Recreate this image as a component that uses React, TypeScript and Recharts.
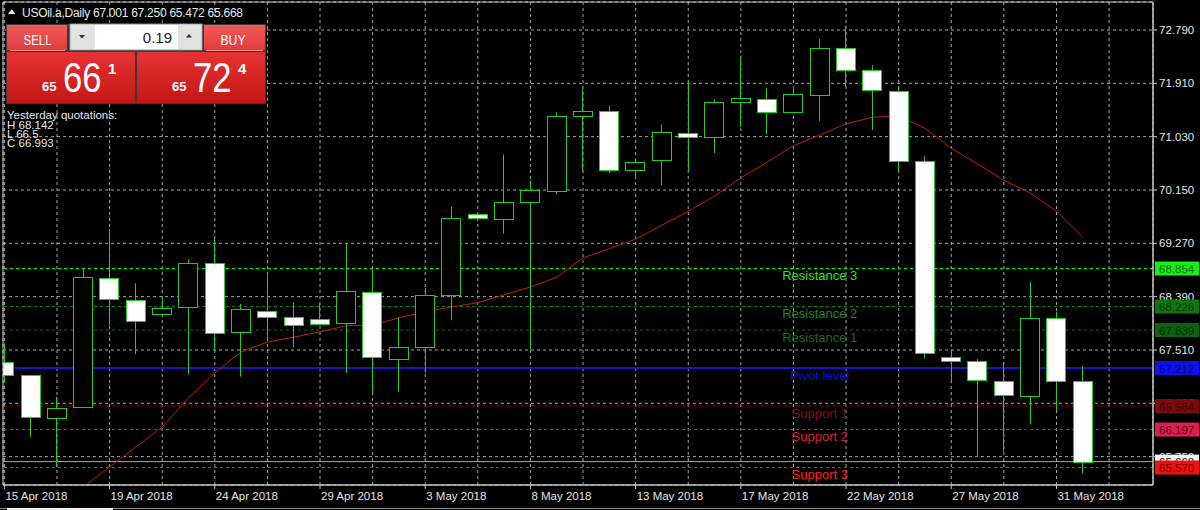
import { ComposedChart, Bar, Line, XAxis, YAxis, CartesianGrid, ReferenceLine, ReferenceDot, ReferenceArea } from 'recharts';

const FONT = "'Liberation Sans', Arial, sans-serif";
const GREEN = '#22cc22';
const FRAME = '#c4c4c4';

// one bar per trading day (the broker also prints short Sunday sessions)
const dates = [
    '15 Apr 2018', '16 Apr 2018', '17 Apr 2018', '18 Apr 2018', '19 Apr 2018', '20 Apr 2018', '22 Apr 2018',
    '23 Apr 2018', '24 Apr 2018', '25 Apr 2018', '26 Apr 2018', '27 Apr 2018', '29 Apr 2018', '30 Apr 2018',
    '1 May 2018', '2 May 2018', '3 May 2018', '4 May 2018', '6 May 2018', '7 May 2018', '8 May 2018',
    '9 May 2018', '10 May 2018', '11 May 2018', '13 May 2018', '14 May 2018', '15 May 2018', '16 May 2018',
    '17 May 2018', '18 May 2018', '20 May 2018', '21 May 2018', '22 May 2018', '23 May 2018', '24 May 2018',
    '25 May 2018', '27 May 2018', '28 May 2018', '29 May 2018', '30 May 2018', '31 May 2018', '1 Jun 2018'
];

const opens = [
    67.31, 67.09, 66.40, 66.56, 68.70, 68.34, 68.11, 68.21, 68.94, 67.80, 68.16, 68.06, 68.02, 67.95,
    68.46, 67.37, 67.56, 68.41, 69.76, 69.68, 69.96, 70.13, 71.37, 71.45, 70.48, 70.63, 71.09, 71.03,
    71.60, 71.65, 71.43, 71.72, 72.49, 72.13, 71.79, 70.63, 67.40, 67.32, 66.99, 66.75, 68.04, 67.001
];
const highs = [
    67.62, 67.10, 66.74, 68.86, 69.50, 68.61, 68.36, 69.00, 69.34, 68.27, 68.78, 68.30, 68.28, 69.28,
    68.84, 68.05, 68.53, 69.87, 69.77, 70.74, 70.31, 71.43, 71.81, 71.54, 70.67, 71.23, 71.94, 71.65,
    72.36, 71.84, 71.87, 72.64, 72.86, 72.21, 71.83, 70.71, 67.48, 67.36, 67.31, 68.63, 68.142, 67.250
];
const lows = [
    66.97, 66.08, 65.58, 66.55, 67.92, 67.44, 68.10, 67.11, 67.51, 67.07, 67.69, 67.55, 67.92, 67.13,
    66.80, 66.82, 67.13, 68.00, 69.68, 69.43, 67.52, 70.08, 70.46, 70.43, 70.37, 70.23, 70.46, 70.76,
    71.19, 71.07, 71.42, 71.29, 71.85, 71.14, 70.45, 67.37, 66.96, 65.75, 65.83, 66.28, 66.5, 65.472
];
const closes = [
    67.10, 66.40, 66.56, 68.71, 68.35, 68.00, 68.21, 68.94, 67.79, 68.18, 68.06, 67.92, 67.93, 68.48,
    67.38, 67.56, 68.41, 69.68, 69.69, 69.96, 70.15, 71.37, 71.45, 70.48, 70.61, 71.10, 71.02, 71.61,
    71.66, 71.43, 71.73, 72.50, 72.13, 71.80, 70.63, 67.47, 67.33, 67.00, 66.76, 68.04, 66.993, 65.668
];
// moving average (red line)
const movingAvg = [
    null, null, null, 65.25, 65.58, 65.91, 66.24, 66.72, 67.13, 67.48, 67.64, 67.72, 67.81, 67.91,
    67.92, 68.04, 68.14, 68.22, 68.29, 68.42, 68.55, 68.71, 69.03, 69.18, 69.34, 69.57, 69.80, 70.05,
    70.35, 70.61, 70.88, 71.06, 71.24, 71.35, 71.37, 71.17, 70.84, 70.58, 70.31, 70.10, 69.80, 69.37
];

const priceTicks = [65.75, 66.63, 67.51, 68.39, 69.27, 70.15, 71.03, 71.91, 72.79];
const gridBars = [0, 2, 4, 6, 8, 10, 12, 14, 16, 18, 20, 22, 24, 26, 28, 30, 32, 34, 36, 38, 40, 42];

const levelNames = ['Resistance 3', 'Resistance 2', 'Resistance 1', 'Pivot level', 'Support 1', 'Support 2', 'Support 3'];
const levelValues = [68.854, 68.226, 67.839, 67.212, 66.584, 66.197, 65.570];
const levelLabelBar = 31;
const currentPrice = 65.668;

const levelLine = ['#00ff00', '#0a8a0a', '#0b6a0b', '#1414c8', '#8a0a0a', '#d4143c', '#ff1a1a'];
const levelText = ['#2ee02e', '#1a8a1a', '#176a17', '#0c0ce6', '#8c0c0c', '#d81c44', '#ff2020'];
const tagFill = ['#14f014', '#0e760e', '#0d620d', '#1010f0', '#7c0a0a', '#d8204e', '#f01010'];
const tagText = ['#0a640a', '#033a03', '#032e03', '#040470', '#3c0202', '#5c0418', '#700404'];

const X_MIN = -0.053;
const X_MAX = 43.67;
const Y_MIN = 65.282;
const Y_MAX = 73.252;

const rows = dates.map((d, i) => ({
    i,
    date: d,
    open: opens[i],
    high: highs[i],
    low: lows[i],
    close: closes[i],
    ma: movingAvg[i]
}));

function Candle(props: any) {
    const { x, y, width, height, payload } = props;
    if (x == null || y == null) return <g />;
    const top = Math.min(y, y + height);
    const h = Math.abs(height);
    const k = h / (payload.high - payload.low);
    const yo = top + (payload.high - payload.open) * k;
    const yc = top + (payload.high - payload.close) * k;
    const cx = Math.floor(x + width / 2) + 0.5;
    const left = Math.round(x) + 0.5;
    const up = payload.close >= payload.open;
    const bodyTop = Math.round(Math.min(yo, yc)) + 0.5;
    const bodyH = Math.max(Math.round(Math.abs(yc - yo)), 1);
    return (
        <g>
            <line x1={cx} x2={cx} y1={top} y2={top + h} stroke={GREEN} strokeWidth={1} />
            <rect x={left} y={bodyTop} width={width - 1} height={bodyH} fill={up ? '#000' : '#fff'} stroke={GREEN} strokeWidth={1} />
        </g>
    );
}

function DateTick(props: any) {
    const { x, y, payload } = props;
    const k = payload.value;
    if (k % 4 !== 0 || !dates[k]) return <g />;
    return (
        <g>
            <line x1={x} x2={x} y1={y} y2={y + 4} stroke={FRAME} />
            <text x={x + 1} y={y + 15} fill="#e4e4e4" fontSize={11.5} fontFamily={FONT}>{dates[k]}</text>
        </g>
    );
}

const priceTag = (value: number, fill: string, color: string) => (props: any) => {
    const vb = props.viewBox || {};
    const x = (vb.x || 0) + (vb.width || 0) + 2;
    const y = vb.y || 0;
    return (
        <g>
            <rect x={x} y={y - 7} width={44} height={14} fill={fill} />
            <text x={x + 4} y={y + 4.5} fill={color} fontSize={11.5} fontFamily={FONT}>{value.toFixed(3)}</text>
        </g>
    );
};

const levelCaption = (name: string, color: string) => (props: any) => (
    <text x={props.cx} y={props.cy + 11.5} textAnchor="middle" fill={color} fontSize={13} fontFamily={FONT}>{name}</text>
);

function Overlay() {
    return (
        <svg width={1200} height={510} style={{ position: 'absolute', left: 0, top: 0 }}>
            <defs>
                <linearGradient id="smallBtn" x1="0" y1="0" x2="0" y2="1">
                    <stop offset="0" stopColor="#f25a5a" />
                    <stop offset="1" stopColor="#e03c3c" />
                </linearGradient>
                <linearGradient id="bigBtn" x1="0" y1="0" x2="0" y2="1">
                    <stop offset="0" stopColor="#e63232" />
                    <stop offset="1" stopColor="#c41616" />
                </linearGradient>
            </defs>
            <polygon points="8,14 11.7,9.3 15.4,14" fill="#f0f0f0" />
            <text x={22} y={16.5} fill="#e8e8e8" fontSize={12} fontFamily={FONT} textLength={221} lengthAdjust="spacing">USOil.a,Daily  67.001 67.250 65.472 65.668</text>

            <rect x={6} y={24} width={260} height={80} fill="#3a3a3a" />
            <rect x={7} y={25} width={60} height={25} fill="url(#smallBtn)" />
            <line x1={10} x2={65} y1={50.5} y2={50.5} stroke="#f39090" />
            <rect x={204} y={25} width={61} height={25} fill="url(#smallBtn)" />
            <line x1={206} x2={263} y1={50.5} y2={50.5} stroke="#f39090" />
            <text x={23.5} y={44.5} fill="#fff" fontSize={15} fontFamily={FONT} textLength={28} lengthAdjust="spacingAndGlyphs">SELL</text>
            <text x={220.5} y={44.5} fill="#fff" fontSize={15} fontFamily={FONT} textLength={25} lengthAdjust="spacingAndGlyphs">BUY</text>

            <rect x={70} y={24} width={132} height={26} fill="#fff" stroke="#8c8c8c" />
            <rect x={71} y={25} width={24} height={24} fill="#e2e2e2" />
            <rect x={178} y={25} width={23} height={24} fill="#e2e2e2" />
            <polygon points="79,35 85,35 82,38.5" fill="#303030" />
            <polygon points="186,37.5 192,37.5 189,34" fill="#303030" />
            <text x={172} y={43} textAnchor="end" fill="#222" fontSize={15} fontFamily={FONT}>0.19</text>

            <rect x={7} y={52} width={128} height={51} fill="url(#bigBtn)" />
            <rect x={137} y={52} width={128} height={51} fill="url(#bigBtn)" />
            <text x={42} y={91} fill="#fff" fontSize={13} fontWeight="bold" fontFamily={FONT}>65</text>
            <text x={63} y={91.5} fill="#fff" fontSize={42} fontFamily={FONT} textLength={38.5} lengthAdjust="spacingAndGlyphs">66</text>
            <text x={108} y={74} fill="#fff" fontSize={15} fontWeight="bold" fontFamily={FONT}>1</text>
            <text x={172} y={91} fill="#fff" fontSize={13} fontWeight="bold" fontFamily={FONT}>65</text>
            <text x={193} y={91.5} fill="#fff" fontSize={42} fontFamily={FONT} textLength={38.5} lengthAdjust="spacingAndGlyphs">72</text>
            <text x={238} y={74} fill="#fff" fontSize={15} fontWeight="bold" fontFamily={FONT}>4</text>

            <g fill="#e6e6e6" fontSize={11.5} fontFamily={FONT}>
                <text x={7} y={119}>Yesterday quotations:</text>
                <text x={7} y={128.5}>H 68.142</text>
                <text x={7} y={137.5}>L 66.5</text>
                <text x={7} y={147}>C 66.993</text>
            </g>

            <line x1={0} x2={1200} y1={508.5} y2={508.5} stroke="#8a8a8a" />
            <rect x={7} y={508} width={106} height={2} fill="#f4f4f4" />
        </svg>
    );
}

export default function App() {
    return (
        <div style={{ position: 'absolute', left: 0, top: 0, width: 1200, height: 510, background: '#000', overflow: 'hidden' }}>
            <ComposedChart width={1200} height={510} data={rows} margin={{ top: 2, right: 0, bottom: 0, left: 3 }} barSize={20}>
                <CartesianGrid stroke="#a6a6a6" strokeDasharray="3 3" />
                <XAxis
                    dataKey="i"
                    type="number"
                    domain={[X_MIN, X_MAX]}
                    allowDataOverflow
                    ticks={gridBars}
                    interval={0}
                    height={25}
                    tickSize={0}
                    tickMargin={0}
                    tickLine={false}
                    axisLine={{ stroke: FRAME }}
                    tick={<DateTick />}
                />
                <YAxis
                    orientation="right"
                    width={47}
                    domain={[Y_MIN, Y_MAX]}
                    allowDataOverflow
                    ticks={priceTicks}
                    interval={0}
                    tickSize={4}
                    tickMargin={2}
                    tickLine={{ stroke: FRAME }}
                    axisLine={{ stroke: FRAME }}
                    tickFormatter={(v: number) => v.toFixed(3)}
                    tick={{ fill: '#e4e4e4', fontSize: 11.5, fontFamily: FONT }}
                />
                {levelValues.map((v, n) => (
                    <ReferenceLine
                        key={levelNames[n]}
                        y={v}
                        stroke={levelLine[n]}
                        strokeWidth={n === 3 ? 2 : 1}
                        strokeDasharray={n === 3 ? undefined : '3 3'}
                        zIndex={200}
                    />
                ))}
                <ReferenceLine y={currentPrice} stroke="#a8a8a8" zIndex={200} />
                <Line dataKey="ma" stroke="#c21a1a" strokeWidth={1} dot={false} activeDot={false} isAnimationActive={false} connectNulls={false} zIndex={250} />
                <Bar dataKey={(d: any) => [d.low, d.high]} shape={<Candle />} isAnimationActive={false} zIndex={300} />
                {levelValues.map((v, n) => (
                    <ReferenceDot
                        key={'cap' + levelNames[n]}
                        x={levelLabelBar}
                        y={v}
                        r={0}
                        shape={levelCaption(levelNames[n], levelText[n])}
                        zIndex={1600}
                    />
                ))}
                <ReferenceArea x1={X_MIN} x2={X_MAX} y1={Y_MIN} y2={Y_MAX} fill="none" fillOpacity={0} stroke={FRAME} strokeOpacity={1} zIndex={1700} />
                {levelValues.slice(0, 6).map((v, n) => (
                    <ReferenceLine
                        key={'tag' + levelNames[n]}
                        y={v}
                        stroke="none"
                        label={priceTag(v, tagFill[n], tagText[n])}
                        zIndex={2100}
                    />
                ))}
                <ReferenceLine y={currentPrice} stroke="none" label={priceTag(currentPrice, '#f4f4f4', '#202020')} zIndex={2100} />
                <ReferenceLine y={levelValues[6]} stroke="none" label={priceTag(levelValues[6], tagFill[6], tagText[6])} zIndex={2100} />
            </ComposedChart>
            <Overlay />
        </div>
    );
}
